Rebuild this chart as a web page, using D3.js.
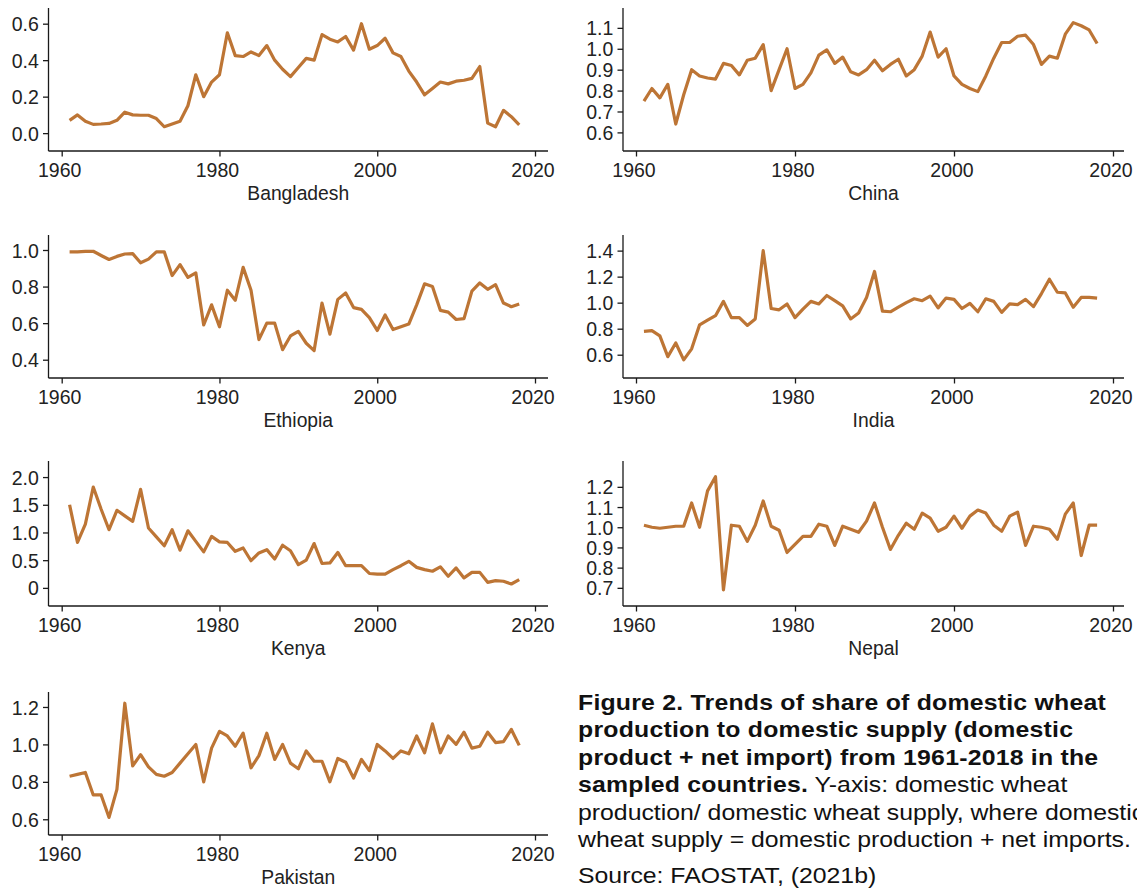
<!DOCTYPE html>
<html>
<head>
<meta charset="utf-8">
<script src="https://cdn.jsdelivr.net/npm/d3@7"></script>
<style>
	body { margin: 0; background: #fff; }
	svg { display: block; font-family: "Liberation Sans", Arial, sans-serif; }
	.axis path, .axis line { stroke: #1a1a1a; stroke-width: 1.3; }
	.axis text { fill: #222; font-size: 19.5px; }
</style>
</head>
<body>
<svg id="chart" width="1137" height="888"></svg>
<script>
const years = d3.range(1961, 2019);
const countries = ['Bangladesh', 'China', 'Ethiopia', 'India', 'Kenya', 'Nepal', 'Pakistan'];

const bangladesh = [0.07, 0.10, 0.065, 0.048, 0.05, 0.053, 0.07, 0.115, 0.10, 0.098, 0.098, 0.08, 0.035, 0.05,
	0.065, 0.15, 0.32, 0.20, 0.28, 0.32, 0.55, 0.425, 0.42, 0.445, 0.425, 0.48, 0.40, 0.35, 0.31, 0.36,
	0.41, 0.40, 0.54, 0.515, 0.50, 0.53, 0.455, 0.60, 0.46, 0.48, 0.52, 0.44, 0.42, 0.34, 0.28, 0.21,
	0.245, 0.28, 0.27, 0.285, 0.29, 0.30, 0.365, 0.055, 0.035, 0.125, 0.09, 0.045];
const china = [0.75, 0.81, 0.765, 0.83, 0.64, 0.78, 0.90, 0.87, 0.86, 0.855, 0.93, 0.92, 0.875, 0.945,
	0.955, 1.02, 0.80, 0.90, 1.0, 0.81, 0.83, 0.885, 0.97, 0.995, 0.93, 0.96, 0.89, 0.875, 0.90, 0.945,
	0.895, 0.925, 0.95, 0.87, 0.90, 0.965, 1.08, 0.96, 1.0, 0.87, 0.83, 0.81, 0.795, 0.87, 0.955, 1.03,
	1.03, 1.06, 1.065, 1.02, 0.925, 0.965, 0.955, 1.07, 1.125, 1.11, 1.09, 1.025];
const ethiopia = [0.99, 0.99, 0.992, 0.993, 0.97, 0.948, 0.965, 0.978, 0.98, 0.93, 0.95, 0.99, 0.99, 0.86,
	0.92, 0.85, 0.875, 0.59, 0.70, 0.58, 0.78, 0.725, 0.905, 0.78, 0.51, 0.60, 0.60, 0.455, 0.53, 0.555,
	0.49, 0.45, 0.71, 0.54, 0.73, 0.765, 0.685, 0.675, 0.63, 0.56, 0.645, 0.565, 0.58, 0.595, 0.70, 0.815,
	0.80, 0.67, 0.66, 0.62, 0.625, 0.775, 0.82, 0.785, 0.81, 0.71, 0.69, 0.705];
const india = [0.78, 0.785, 0.745, 0.585, 0.69, 0.56, 0.645, 0.83, 0.865, 0.90, 1.01, 0.885, 0.885, 0.825,
	0.875, 1.40, 0.955, 0.945, 0.99, 0.885, 0.95, 1.01, 0.99, 1.055, 1.015, 0.975, 0.875, 0.92, 1.04, 1.24,
	0.935, 0.93, 0.965, 1.0, 1.03, 1.015, 1.05, 0.96, 1.035, 1.025, 0.955, 0.995, 0.93, 1.03, 1.01, 0.925,
	0.99, 0.985, 1.025, 0.97, 1.07, 1.18, 1.08, 1.075, 0.965, 1.04, 1.04, 1.035];
const kenya = [1.50, 0.82, 1.15, 1.82, 1.42, 1.05, 1.40, 1.30, 1.20, 1.78, 1.08, 0.92, 0.76, 1.05,
	0.68, 1.03, 0.84, 0.65, 0.93, 0.83, 0.82, 0.66, 0.72, 0.49, 0.63, 0.69, 0.52, 0.77, 0.67, 0.42,
	0.50, 0.80, 0.44, 0.45, 0.64, 0.40, 0.40, 0.40, 0.26, 0.25, 0.25, 0.33, 0.40, 0.48, 0.37, 0.33,
	0.30, 0.38, 0.21, 0.36, 0.18, 0.28, 0.28, 0.10, 0.13, 0.12, 0.07, 0.15];
const nepal = [1.01, 1.0, 0.995, 1.0, 1.005, 1.005, 1.12, 1.0, 1.18, 1.25, 0.69, 1.01, 1.005, 0.93,
	1.01, 1.13, 1.005, 0.985, 0.875, 0.915, 0.955, 0.955, 1.015, 1.005, 0.91, 1.005, 0.99, 0.975, 1.03, 1.12,
	1.0, 0.89, 0.96, 1.02, 0.99, 1.07, 1.045, 0.98, 1.0, 1.055, 0.995, 1.055, 1.085, 1.07, 1.01, 0.98,
	1.055, 1.075, 0.91, 1.005, 1.0, 0.99, 0.94, 1.065, 1.12, 0.86, 1.01, 1.01];
const pakistan = [0.83, 0.84, 0.85, 0.73, 0.73, 0.61, 0.76, 1.22, 0.885, 0.945, 0.88, 0.84, 0.83, 0.85,
	0.90, 0.95, 1.0, 0.80, 0.98, 1.07, 1.045, 0.99, 1.06, 0.875, 0.94, 1.06, 0.92, 1.0, 0.90, 0.87,
	0.965, 0.91, 0.91, 0.80, 0.925, 0.905, 0.82, 0.92, 0.86, 1.0, 0.965, 0.925, 0.965, 0.95, 1.045, 0.955,
	1.11, 0.955, 1.045, 1.0, 1.065, 0.98, 0.99, 1.065, 1.01, 1.015, 1.08, 0.995];
const series = [bangladesh, china, ethiopia, india, kenya, nepal, pakistan];

// axis ranges and tick values per panel
const yDomains = [[-0.098, 0.686], [0.511, 1.195], [0.30, 1.082], [0.421, 1.52], [-0.327, 2.29], [0.61, 1.328], [0.516, 1.28]];
const yTicks = [
	[0, 0.2, 0.4, 0.6],
	[0.6, 0.7, 0.8, 0.9, 1.0, 1.1],
	[0.4, 0.6, 0.8, 1.0],
	[0.6, 0.8, 1.0, 1.2, 1.4],
	[0, 0.5, 1.0, 1.5, 2.0],
	[0.7, 0.8, 0.9, 1.0, 1.1, 1.2],
	[0.6, 0.8, 1.0, 1.2],
];
const xTicks = [1960, 1980, 2000, 2020];

const captionBold = [
	'Figure 2. Trends of share of domestic wheat',
	'production to domestic supply (domestic',
	'product + net import) from 1961-2018 in the',
];
const captionMixed = ['sampled countries.', ' Y-axis: domestic wheat'];
const captionPlain = [
	'production/ domestic wheat supply, where domestic',
	'wheat supply = domestic production + net imports.',
];
const captionSource = 'Source: FAOSTAT, (2021b)';

const lineColor = '#bd7535';
const cols = [{ left: 48.5, right: 548, x0: 61.7, x1: 535 }, { left: 623, right: 1124, x0: 636, x1: 1113 }];
const rows = [{ top: 8, bottom: 151 }, { top: 235, bottom: 378 }, { top: 461, bottom: 606 }, { top: 692, bottom: 835 }];

const svg = d3.select('#chart');

countries.forEach((name, i) => {
	const col = cols[i % 2];
	const row = rows[Math.floor(i / 2)];
	const x = d3.scaleLinear().domain([1960, 2020]).range([col.x0, col.x1]);
	const y = d3.scaleLinear().domain(yDomains[i]).range([row.bottom, row.top]);
	const g = svg.append('g').attr('class', 'panel');

	g.append('g')
		.attr('class', 'axis')
		.attr('transform', `translate(${col.left},0)`)
		.call(
			d3.axisLeft(y)
				.tickValues(yTicks[i])
				.tickSize(5.5)
				.tickFormat((d) => (name === 'Kenya' && d === 0 ? '0' : d3.format('.1f')(d)))
		)
		.call((a) => a.select('.domain').attr('d', `M0,${row.top}V${row.bottom}`))
		.call((a) => a.selectAll('.tick text').attr('x', -9.7).attr('dy', '0.36em'));

	g.append('g')
		.attr('class', 'axis')
		.attr('transform', `translate(0,${row.bottom})`)
		.call(d3.axisBottom(x).tickValues(xTicks).tickFormat(d3.format('d')).tickSize(5.5))
		.call((a) => a.select('.domain').attr('d', `M${col.left},0H${col.right}`))
		.call((a) => a.selectAll('.tick text').attr('x', -2.5).attr('y', 26).attr('dy', null));

	g.append('path')
		.datum(years.map((yr, k) => [yr, series[i][k]]))
		.attr('fill', 'none')
		.attr('stroke', lineColor)
		.attr('stroke-width', 3.2)
		.attr('stroke-linejoin', 'round')
		.attr('d', d3.line().x((d) => x(d[0])).y((d) => y(d[1])));

	g.append('text')
		.attr('x', (col.left + col.right) / 2)
		.attr('y', row.bottom + 49)
		.attr('text-anchor', 'middle')
		.attr('fill', '#222')
		.style('font-size', '19.3px')
		.text(name);
});

// caption, drawn a little wider than Arial to match the original face
const capX = 578;
const lineH = 27.4;
const cap = svg.append('g')
	.attr('fill', '#111')
	.attr('transform', `translate(${capX},0) scale(1.128,1)`)
	.style('font-size', '22px');
let cy = 710;
captionBold.forEach((t) => {
	cap.append('text').attr('y', cy).style('font-weight', 'bold').style('letter-spacing', '0.2px').text(t);
	cy += lineH;
});
const mixed = cap.append('text').attr('y', cy);
mixed.append('tspan').style('font-weight', 'bold').style('letter-spacing', '0.2px').text(captionMixed[0]);
mixed.append('tspan').text(captionMixed[1]);
cy += lineH;
captionPlain.forEach((t) => {
	cap.append('text').attr('y', cy).text(t);
	cy += lineH;
});
cap.append('text').attr('y', 883).text(captionSource);
</script>
</body>
</html>
